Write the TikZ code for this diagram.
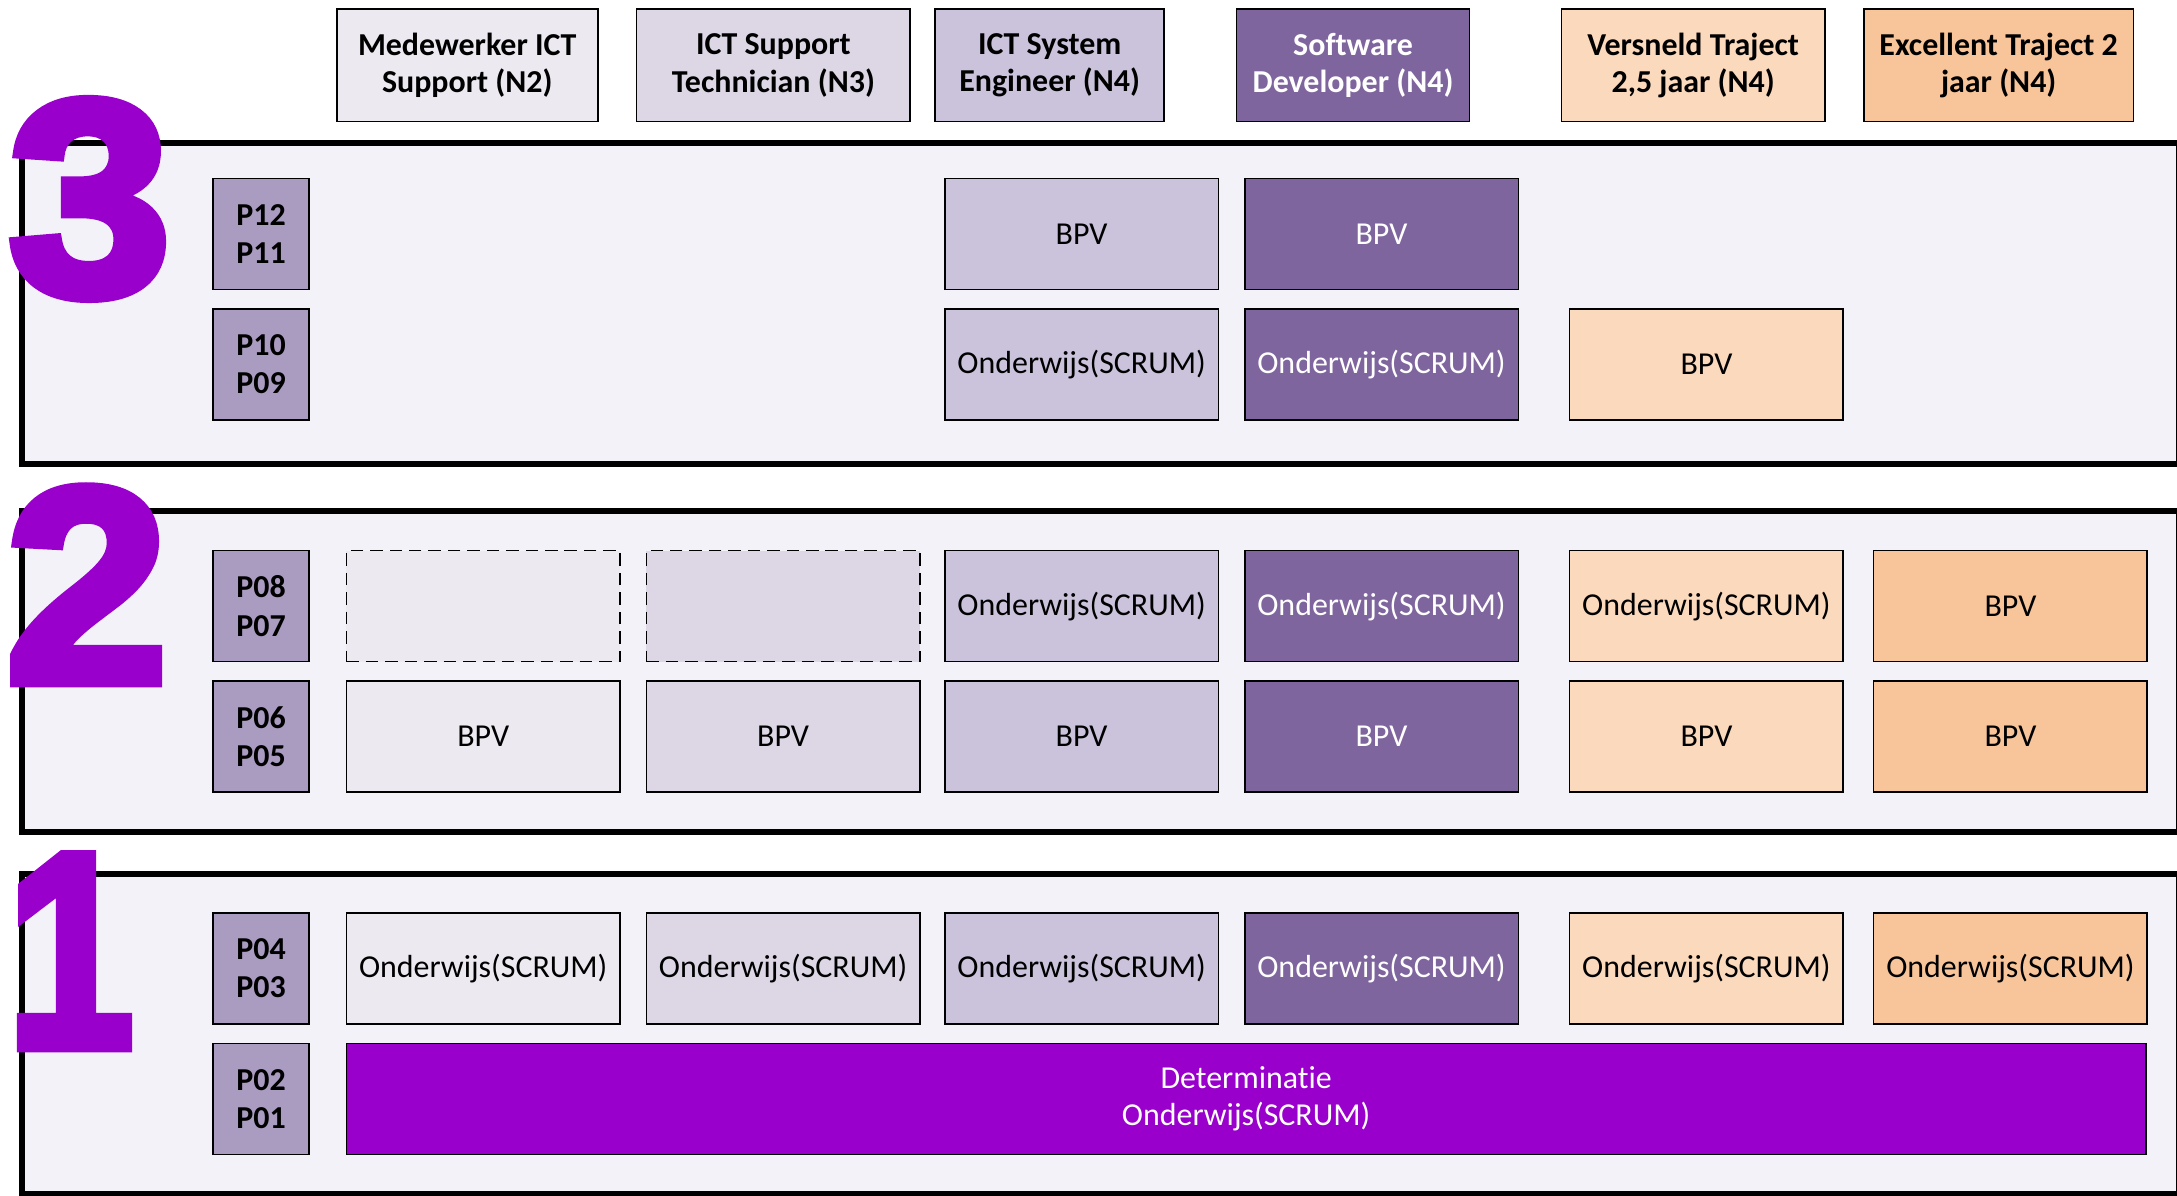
\documentclass[tikz,border=0pt]{standalone}
\usepackage{fontspec}
\setmainfont{Carlito}[Ligatures=CommonOff]
\newfontfamily\digitfont{Liberation Sans}[BoldFeatures={FakeBold=4}]
\definecolor{colA}{HTML}{ECE9F1}
\definecolor{colB}{HTML}{DCD6E5}
\definecolor{colC}{HTML}{CBC2DB}
\definecolor{colD}{HTML}{7F659E}
\definecolor{colE}{HTML}{FBD9BC}
\definecolor{colF}{HTML}{F8C59A}
\definecolor{plabc}{HTML}{AA9BC0}
\definecolor{panelc}{HTML}{F3F2F8}
\definecolor{digitc}{HTML}{9900CC}
\begin{document}
\begin{tikzpicture}[x=1pt,y=-1pt,
  cell/.style={draw=black, line width=1.1pt, anchor=north west, minimum width=197pt, minimum height=80pt, inner sep=0pt, font=\fontsize{23}{27}\selectfont, align=center},
  hdr/.style={draw=black, line width=1.1pt, anchor=north west, minimum height=81pt, inner sep=0pt, font=\fontsize{23}{27}\selectfont\bfseries, align=center},
  plab/.style={cell, fill=plabc, minimum width=69pt, font=\fontsize{23}{27.5}\selectfont\bfseries},
  panel/.style={draw=black, line width=4.3pt, fill=panelc, anchor=north west, minimum width=1553pt, minimum height=231pt, inner sep=0pt},
  digit/.style={text=digitc, font=\digitfont\bfseries\fontsize{200}{200}\selectfont, inner sep=0pt, anchor=base west},
  dcell/.style={cell, dashed, dash pattern=on 9pt off 5pt}
]
\useasboundingbox (0,0) rectangle (1568,861.4);
\fill[white] (0,0) rectangle (1568,861.4);

% headers
\node[hdr, fill=colA, minimum width=188pt] (h1) at (242,6) {Medewerker ICT\\Support (N2)};
\node[hdr, fill=colB, minimum width=197pt] (h2) at (458,6) {ICT Support\\Technician (N3)};
\node[hdr, fill=colC, minimum width=165pt] (h3) at (673,6) {ICT System\\Engineer (N4)};
\node[hdr, fill=colD, text=white, minimum width=168pt] (h4) at (890,6) {Software\\Developer (N4)};
\node[hdr, fill=colE, minimum width=190pt] (h5) at (1124,6) {Versneld Traject\\2,5 jaar (N4)};
\node[hdr, fill=colF, minimum width=194pt] (h6) at (1342,6) {Excellent Traject 2\\jaar (N4)};

% panels
\node[panel] (pan3) at (14,101) {};
\node[panel] (pan2) at (14,366) {};
\node[panel] (pan1) at (14,627) {};

% digits
\node[digit] (d3) at (6,212) {\scalebox{1.05}[1]{3}};
\node[digit] (d2) at (4,491) {\scalebox{1.05}[1]{2}};
\node[digit] (d1) at (5,754) {\scalebox{0.82}[1]{1}};

% panel 3
\node[plab] (p3a) at (153,128) {P12\\P11};
\node[plab] (p3b) at (153,222) {P10\\P09};
\node[cell, fill=colC] (c3a3) at (680,128) {BPV};
\node[cell, fill=colD, text=white] (c3a4) at (896,128) {BPV};
\node[cell, fill=colC] (c3b3) at (680,222) {Onderwijs(SCRUM)};
\node[cell, fill=colD, text=white] (c3b4) at (896,222) {Onderwijs(SCRUM)};
\node[cell, fill=colE] (c3b5) at (1130,222) {BPV};

% panel 2
\node[plab] (p2a) at (153,396) {P08\\P07};
\node[plab] (p2b) at (153,490) {P06\\P05};
\node[dcell, fill=colA] (c2a1) at (249,396) {};
\node[dcell, fill=colB] (c2a2) at (465,396) {};
\node[cell, fill=colC] (c2a3) at (680,396) {Onderwijs(SCRUM)};
\node[cell, fill=colD, text=white] (c2a4) at (896,396) {Onderwijs(SCRUM)};
\node[cell, fill=colE] (c2a5) at (1130,396) {Onderwijs(SCRUM)};
\node[cell, fill=colF] (c2a6) at (1349,396) {BPV};
\node[cell, fill=colA] (c2b1) at (249,490) {BPV};
\node[cell, fill=colB] (c2b2) at (465,490) {BPV};
\node[cell, fill=colC] (c2b3) at (680,490) {BPV};
\node[cell, fill=colD, text=white] (c2b4) at (896,490) {BPV};
\node[cell, fill=colE] (c2b5) at (1130,490) {BPV};
\node[cell, fill=colF] (c2b6) at (1349,490) {BPV};

% panel 1
\node[plab] (p1a) at (153,657) {P04\\P03};
\node[plab] (p1b) at (153,751) {P02\\P01};
\node[cell, fill=colA] (c1a1) at (249,657) {Onderwijs(SCRUM)};
\node[cell, fill=colB] (c1a2) at (465,657) {Onderwijs(SCRUM)};
\node[cell, fill=colC] (c1a3) at (680,657) {Onderwijs(SCRUM)};
\node[cell, fill=colD, text=white] (c1a4) at (896,657) {Onderwijs(SCRUM)};
\node[cell, fill=colE] (c1a5) at (1130,657) {Onderwijs(SCRUM)};
\node[cell, fill=colF] (c1a6) at (1349,657) {Onderwijs(SCRUM)};
\node[cell, fill=digitc, text=white, minimum width=1296pt] (det) at (249,751) {Determinatie\\Onderwijs(SCRUM)};
\end{tikzpicture}
\end{document}
